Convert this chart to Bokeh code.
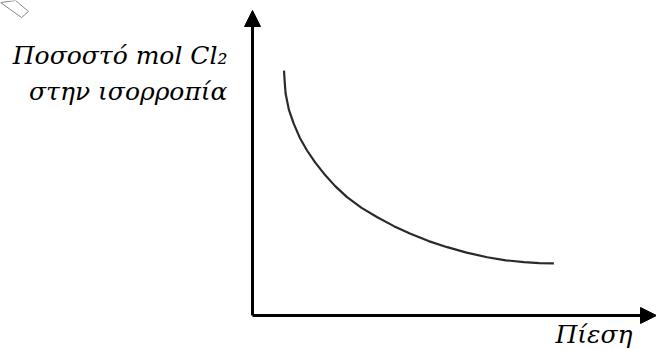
from bokeh.plotting import figure
from bokeh.models import Range1d, Arrow, NormalHead, Label
from bokeh.embed import file_html
from bokeh.resources import INLINE

# Data (arbitrary units: pressure vs mol % Cl2)
pressure = [0.78, 0.80, 0.82, 0.90, 1.02, 1.17, 1.35, 1.55, 1.77, 2.04, 2.34, 2.70,
            3.09, 3.50, 3.91, 4.36, 4.82, 5.30, 5.81, 6.27, 6.72, 7.10, 7.46]
mol_cl2 = [8.03, 7.60, 7.27, 6.75, 6.29, 5.83, 5.41, 5.02, 4.65, 4.25, 3.88, 3.53,
           3.22, 2.93, 2.68, 2.44, 2.24, 2.06, 1.91, 1.81, 1.75, 1.72, 1.71]

y_title = ["Ποσοστό mol Cl₂", "στην ισορροπία"]
x_title = "Πίεση"

W, H = 656, 349
# picture pixel -> data conversions: origin at pixel (252, 315)
OX, OY, SX, SY = 252.0, 315.0, 40.4, 30.5
def dx(px):
    return (px - OX) / SX
def dy(py):
    return (OY - py) / SY

p = figure(width=W, height=H, output_backend="svg", toolbar_location=None,
           x_range=Range1d(dx(0), dx(W)), y_range=Range1d(dy(H), dy(0)),
           min_border=0, min_border_left=0, min_border_right=0,
           min_border_top=0, min_border_bottom=0)
p.axis.visible = False
p.grid.visible = False
p.outline_line_color = None
p.background_fill_color = "white"
p.border_fill_color = "white"

# axes with arrow heads
p.add_layout(Arrow(end=NormalHead(size=16, fill_color="black", line_color="black"),
                   x_start=0, y_start=0, x_end=0, y_end=10.0,
                   line_width=3, line_color="black"))
p.add_layout(Arrow(end=NormalHead(size=16, fill_color="black", line_color="black"),
                   x_start=0, y_start=0, x_end=10.0, y_end=0,
                   line_width=3, line_color="black"))

# curve
p.line(pressure, mol_cl2, line_width=2.2, line_color="#2a2a2a")

font = "'DejaVu Serif', serif"
fs = "25px"
p.add_layout(Label(x=dx(227), y=dy(55), text=y_title[0], text_font=font,
                   text_font_style="italic", text_font_size=fs, text_align="right",
                   text_baseline="alphabetic", text_color="black"))
p.add_layout(Label(x=dx(227), y=dy(91), text=y_title[1], text_font=font,
                   text_font_style="italic", text_font_size=fs, text_align="right",
                   text_baseline="alphabetic", text_color="black"))
p.add_layout(Label(x=dx(632), y=dy(334), text=x_title, text_font=font,
                   text_font_style="italic", text_font_size=fs, text_align="right",
                   text_baseline="alphabetic", text_color="black"))

# small cropped frame corner at top-left
p.patch([dx(15), dx(28), dx(21), dx(0)],
        [dy(0), dy(11), dy(17), dy(2)],
        fill_color=None, line_color="#888888", line_width=1)

open("out.html", "w").write(file_html(p, INLINE))
